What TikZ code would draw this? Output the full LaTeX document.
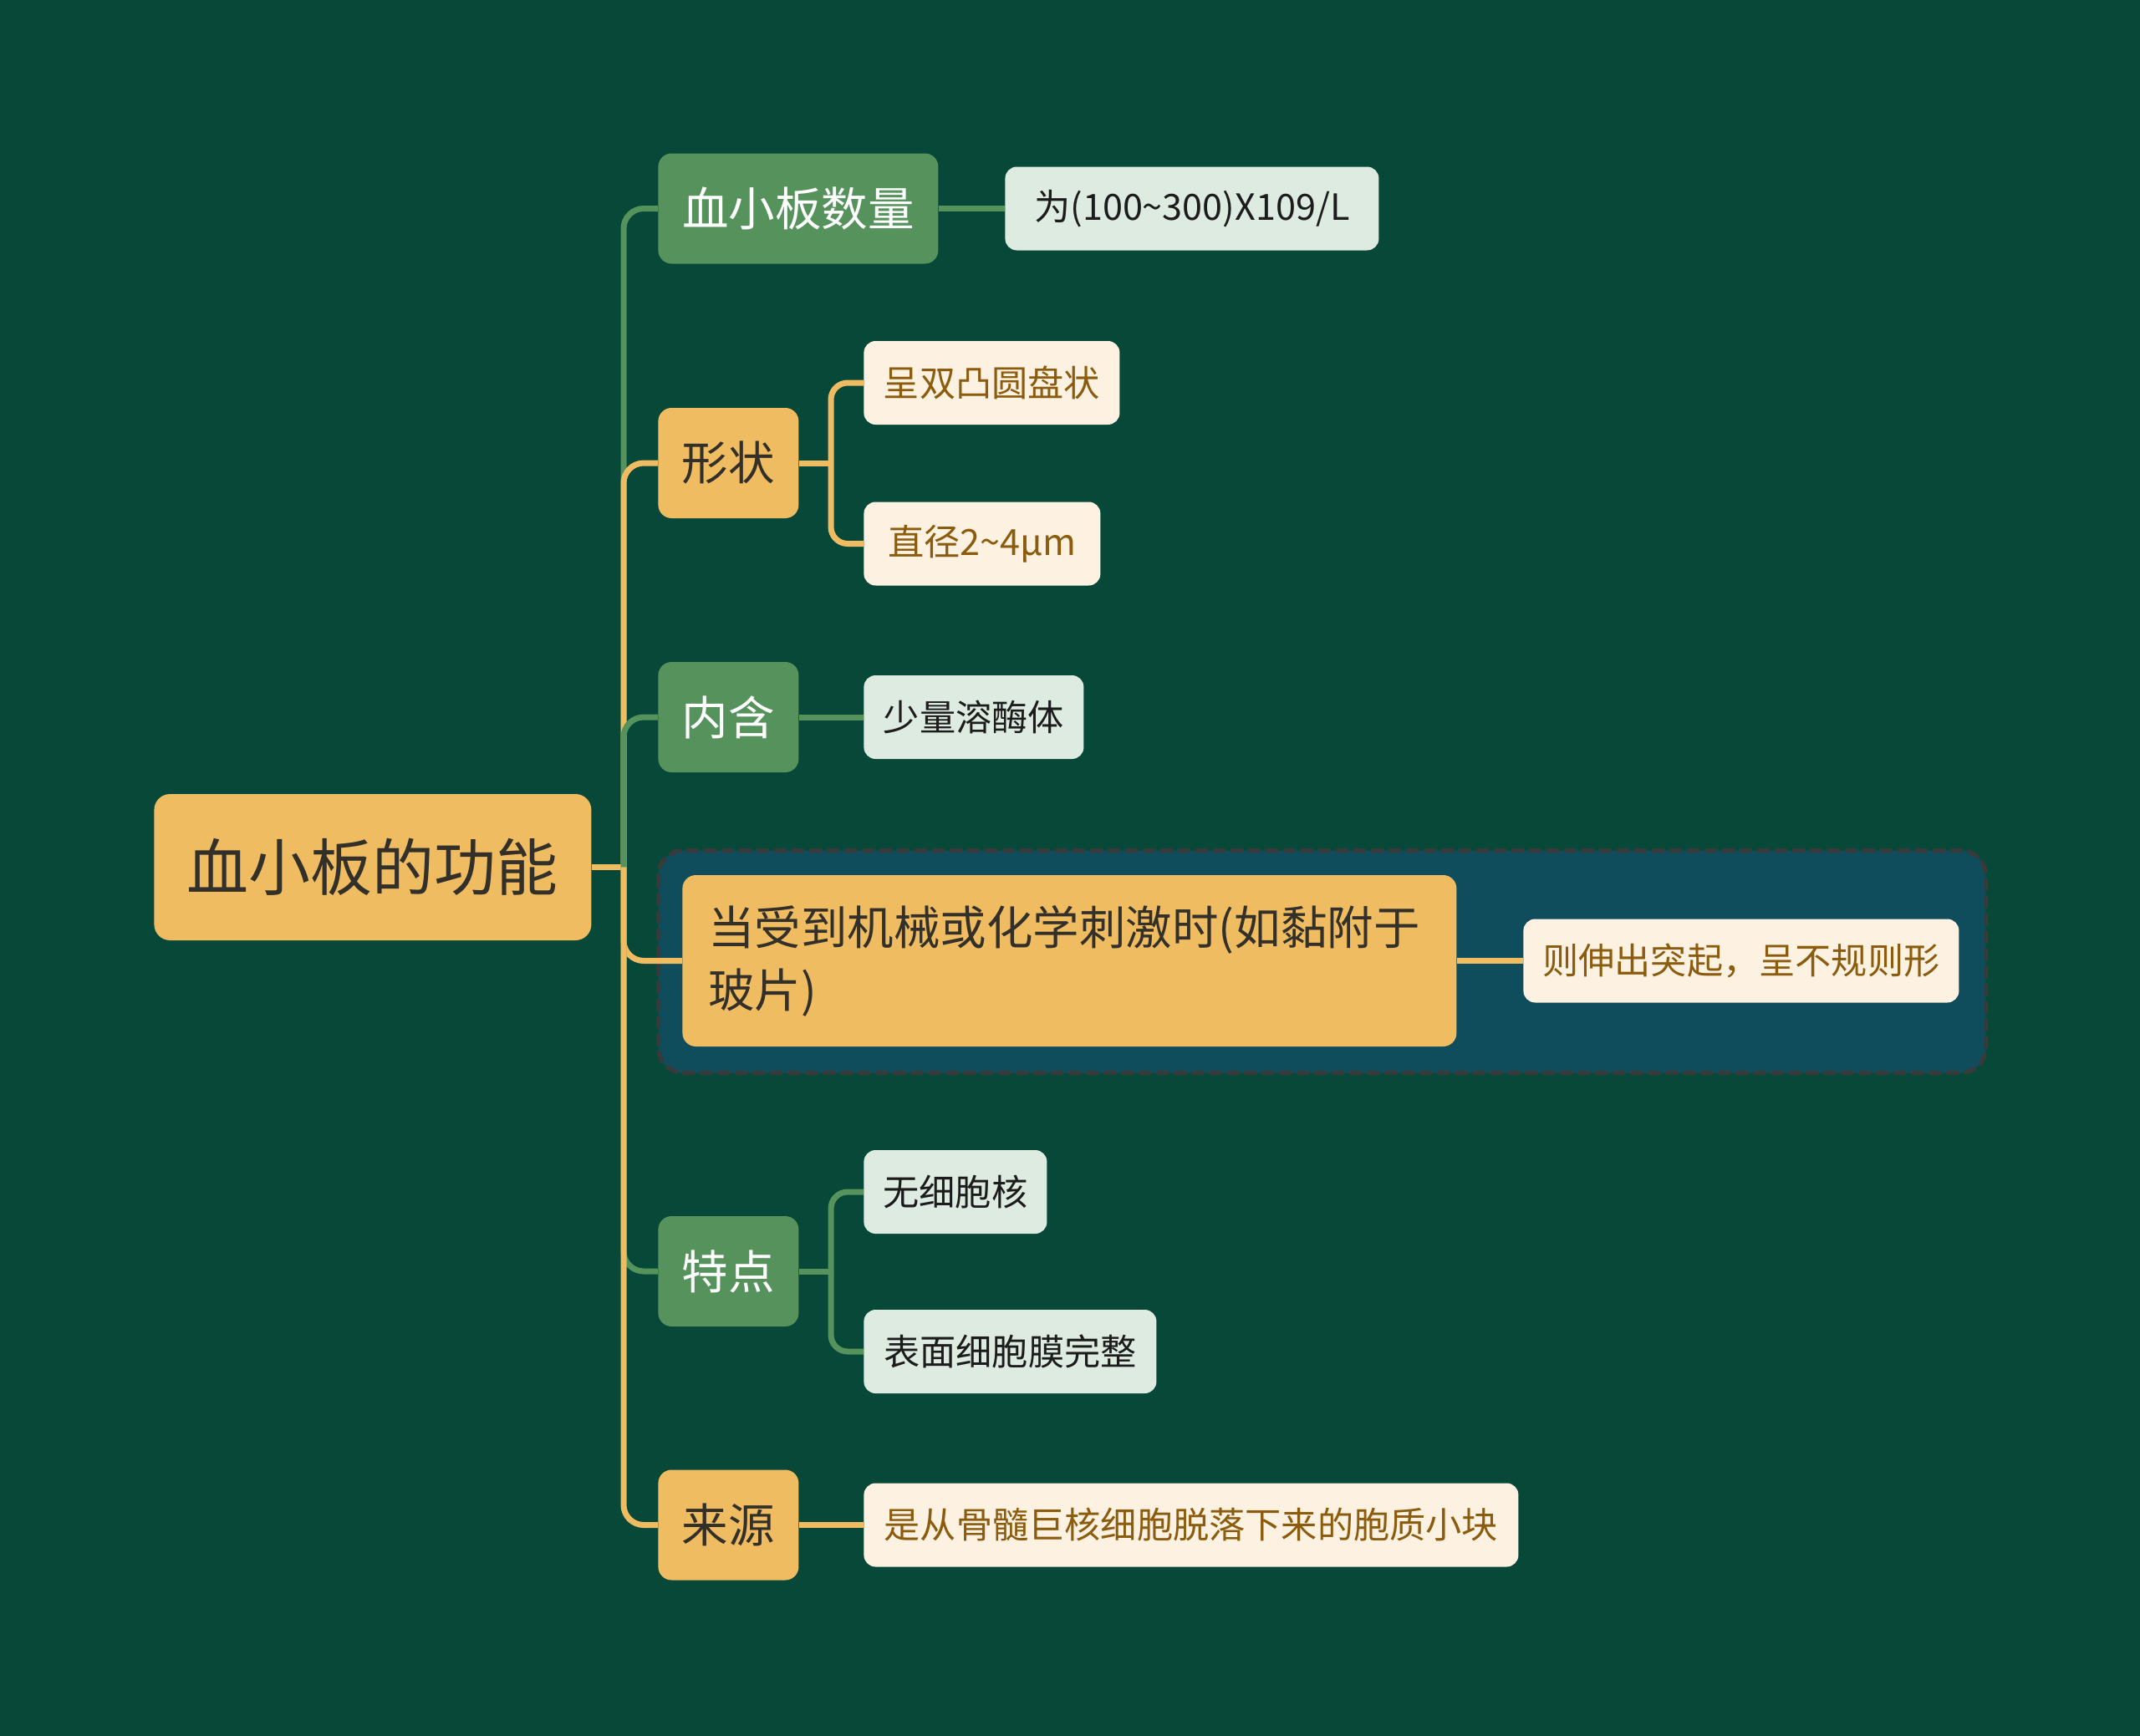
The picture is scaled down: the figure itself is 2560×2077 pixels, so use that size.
\documentclass[tikz,border=0pt]{standalone}
\usepackage{fontspec}
\setmainfont{Noto Sans CJK SC}
\usetikzlibrary{backgrounds}
\definecolor{bgc}{HTML}{074838}
\definecolor{gnode}{HTML}{55925C}
\definecolor{onode}{HTML}{F0BC62}
\definecolor{gleaf}{HTML}{DDEBE0}
\definecolor{cleaf}{HTML}{FDF2E2}
\definecolor{brown}{HTML}{8C5C0E}
\definecolor{darktxt}{HTML}{33302A}
\definecolor{leaftxt}{HTML}{1C1C1C}
\definecolor{grpfill}{HTML}{0F4C5C}
\definecolor{grpline}{HTML}{3A3A3A}
\tikzset{
  box/.style={anchor=west, inner sep=0pt, align=center},
  rootbox/.style={box, fill=onode, text=darktxt, rounded corners=9.5pt,
    font=\fontsize{37pt}{44pt}\selectfont},
  lvgreen/.style={box, fill=gnode, text=white, rounded corners=8pt,
    minimum height=66pt, font=\fontsize{27.75pt}{37.5pt}\selectfont},
  lvorange/.style={box, fill=onode, text=darktxt, rounded corners=8pt,
    minimum height=66pt, font=\fontsize{27.75pt}{37.5pt}\selectfont},
  leafgreen/.style={box, fill=gleaf, text=leaftxt, rounded corners=7pt,
    minimum height=50pt, font=\fontsize{21.6pt}{26pt}\selectfont},
  leafcream/.style={box, fill=cleaf, text=brown, rounded corners=7pt,
    minimum height=50pt, font=\fontsize{21.6pt}{26pt}\selectfont},
  gline/.style={draw=gnode, line width=3.5pt},
  oline/.style={draw=onode, line width=3.5pt},
  groupbox/.style={fill=grpfill, draw=grpline, line width=2.5pt,
    dash pattern=on 7.5pt off 3pt, rounded corners=15pt},
}
\begin{document}
\begin{tikzpicture}[x=0.5pt,y=-0.5pt]
\useasboundingbox (0,0) rectangle (2560,2077);

% nodes
\node[rootbox, minimum width=261.5pt, minimum height=87.5pt] (root) at (184,1037.5) {血小板的功能};

\node[lvgreen, minimum width=167.5pt] (n1) at (787,249.5) {血小板数量};
\node[lvorange, minimum width=84pt] (n2) at (787,554) {形状};
\node[lvgreen, minimum width=84pt] (n3) at (787,858) {内含};
\node[lvorange, minimum height=102.5pt, text width=432pt, inner xsep=15.5pt, align=left] (n4) at (816,1149.5)
  {当受到机械或化学刺激时(如黏附于\\玻片)};
\node[lvgreen, minimum width=84pt] (n5) at (787,1521) {特点};
\node[lvorange, minimum width=84pt] (n6) at (787,1824.5) {来源};

\node[leafgreen, minimum width=223.5pt] (l1) at (1202,249.5) {为(100\textasciitilde300)X109/L};
\node[leafcream, minimum width=153pt] (l2) at (1033,458) {呈双凸圆盘状};
\node[leafcream, minimum width=141.5pt] (l3) at (1033,650.5) {直径2\textasciitilde4μm};
\node[leafgreen, minimum width=131.5pt] (l4) at (1033,858) {少量溶酶体};
\node[leafcream, minimum width=260.5pt] (l5) at (1822,1149.5) {则伸出突起，呈不规则形};
\node[leafgreen, minimum width=109.5pt] (l6) at (1033,1426) {无细胞核};
\node[leafgreen, minimum width=175pt] (l7) at (1033,1617) {表面细胞膜完整};
\node[leafcream, minimum width=391.5pt] (l8) at (1033,1824.5) {是从骨髓巨核细胞脱落下来的胞质小块};

\coordinate (J) at (746,1037.5);
\coordinate (K2) at (994,554);
\coordinate (K5) at (994,1521);

\begin{pgfonlayer}{background}
  \fill[bgc] (0,0) rectangle (2560,2077);
  \path[groupbox] (787.5,1017.5) rectangle (2375.5,1283.5);
  % trunk
  \draw[oline] (root.east) -- (J);
  \draw[gline, rounded corners=12pt] (J) |- (n1.west);
  \draw[oline, rounded corners=12pt] (J) |- (n2.west);
  \draw[gline, rounded corners=12pt] (J) |- (n3.west);
  \draw[oline, rounded corners=12pt] (J) |- (n4.west);
  \draw[gline, rounded corners=12pt] (J) |- (n5.west);
  \draw[oline, rounded corners=12pt] (J) |- (n6.west);
  % level two
  \draw[gline] (n1.east) -- (l1.west);
  \draw[oline] (n2.east) -- (K2);
  \draw[oline, rounded corners=10pt] (K2) |- (l2.west);
  \draw[oline, rounded corners=10pt] (K2) |- (l3.west);
  \draw[gline] (n3.east) -- (l4.west);
  \draw[oline] (n4.east) -- (l5.west);
  \draw[gline] (n5.east) -- (K5);
  \draw[gline, rounded corners=10pt] (K5) |- (l6.west);
  \draw[gline, rounded corners=10pt] (K5) |- (l7.west);
  \draw[oline] (n6.east) -- (l8.west);
\end{pgfonlayer}
\end{tikzpicture}
\end{document}
